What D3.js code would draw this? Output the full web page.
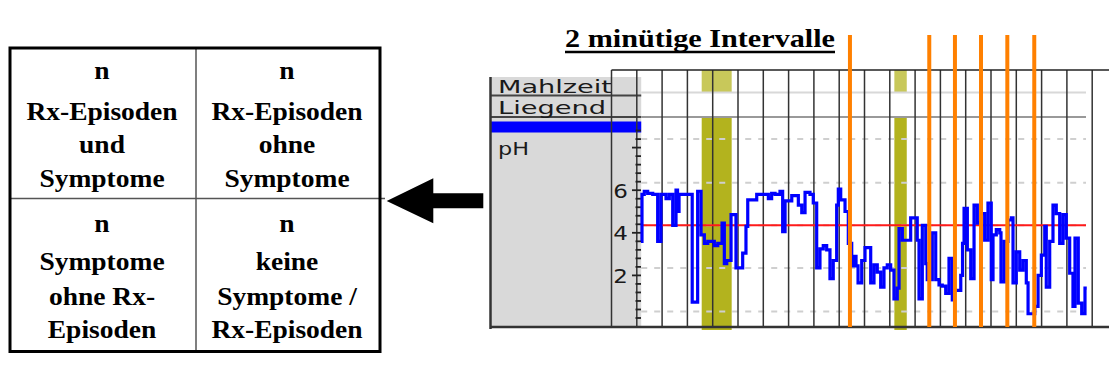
<!DOCTYPE html>
<html><head><meta charset="utf-8">
<script src="https://cdn.jsdelivr.net/npm/d3@7"></script>
<style>html,body{margin:0;padding:0;background:#fff}svg{display:block}</style>
</head><body>
<svg id="c" width="1109" height="378"></svg>
<script>
// ---- data ----
const phTime = [2.33,2.41,2.59,2.86,3.26,3.65,3.91,4.31,4.57,4.84,
5.10,5.22,5.34,6.38,6.81,7.08,7.34,7.61,8.13,8.40,
8.74,8.92,9.11,9.45,9.84,10.37,10.63,10.77,11.48,12.40,
12.66,12.93,13.32,13.53,13.72,14.25,14.77,15.04,15.30,15.69,
15.95,16.22,16.48,16.74,17.01,17.27,17.53,17.80,17.93,18.12,
18.46,18.72,18.99,19.17,19.33,19.49,19.78,20.04,20.49,20.75,
21.01,21.28,21.54,21.80,22.07,22.33,22.59,22.73,22.99,23.65,
24.17,24.31,24.57,24.84,24.96,25.36,25.63,25.89,26.15,26.42,
26.68,26.94,27.08,27.61,27.75,27.87,28.13,28.40,28.66,28.92,
29.19,29.50,29.76,30.02,30.16,30.42,30.69,30.79,31.05,31.34,
31.61,31.74,32.00,32.27,32.53,32.79,32.93,33.46,33.72,33.98,
34.25,34.37,34.64,34.90,35.16,35.43,35.69,35.95,36.22,36.48,
36.64,36.90,37.17,37.43,37.57];
const phValue = [3.6,5.8,5.95,5.85,5.8,3.6,5.8,5.6,5.8,4.35,
6.0,5.0,5.8,0.75,5.95,3.9,3.5,3.6,3.4,3.5,
4.45,2.55,2.7,4.85,2.35,3.05,4.3,5.55,5.8,5.6,
5.85,5.8,5.95,4.05,5.5,5.75,5.3,4.95,5.9,5.8,
5.4,2.35,3.25,3.4,3.2,1.85,2.7,5.3,6.05,5.55,
5.0,3.5,2.45,2.9,2.45,1.65,2.7,3.3,1.65,2.5,
2.15,1.45,2.35,2.5,2.25,0.9,1.4,4.2,3.65,4.7,
3.65,0.9,4.35,2.55,1.8,4.0,1.8,1.55,1.5,1.15,
2.8,0.85,1.3,2.0,3.5,5.15,3.2,1.85,5.3,4.45,
4.9,3.65,5.4,1.8,3.9,4.15,4.0,1.7,3.6,4.6,
4.7,1.65,3.1,2.25,2.7,1.65,0.2,0.55,2.0,2.95,
4.3,1.45,3.6,5.3,4.9,3.5,4.85,3.75,2.1,0.55,
3.75,0.7,0.2,1.4,1.4];
const mealStart = [7.13, 22.36];
const mealEnd = [9.5, 23.34];
const symptomTimes = [18.85, 25.12, 27.15, 29.21, 31.29, 33.42];
const threshold = 4.35;
const gridPh = [0.3, 2.35, 4.35, 6.35, 8.4];
const yTickLabels = [2, 4, 6];
const intervalMinutes = 2;
const rowLabels = ["Mahlzeit", "Liegend"];
const channelLabel = "pH";
const title = "2 minütige Intervalle";
const cellTopLeft = ["n", "Rx-Episoden", "und", "Symptome"];
const cellTopRight = ["n", "Rx-Episoden", "ohne", "Symptome"];
const cellBottomLeft = ["n", "Symptome", "ohne Rx-", "Episoden"];
const cellBottomRight = ["n", "keine", "Symptome /", "Rx-Episoden"];

// ---- drawing ----
const svg = d3.select("#c");
const x = d3.scaleLinear().domain([0, 38]).range([611.5, 1092.2]);
const y = d3.scaleLinear().domain([0, 9]).range([318, 126.3]);

svg.append("rect").attr("width",1109).attr("height",378).attr("fill","#fff");

// ---------- table ----------
const T = {l:10, t:48, r:380, b:351.5, mx:196, my:198.5};
svg.append("line").attr("x1",T.l).attr("x2",385).attr("y1",T.my).attr("y2",T.my).attr("stroke","#555").attr("stroke-width",1.5);
svg.append("line").attr("x1",T.mx).attr("x2",T.mx).attr("y1",T.t).attr("y2",T.b).attr("stroke","#555").attr("stroke-width",1.5);
svg.append("rect").attr("x",T.l).attr("y",T.t).attr("width",T.r-T.l).attr("height",T.b-T.t)
  .attr("fill","none").attr("stroke","#000").attr("stroke-width",3);
function cell(lines, cx, ys){
  lines.forEach((s,i)=>{
    svg.append("text").attr("transform",`translate(${cx},${ys[i]}) scale(1.1,1)`)
      .attr("text-anchor","middle").attr("font-family","Liberation Serif, Times New Roman, serif")
      .attr("font-weight","bold").attr("font-size",25).attr("fill","#000").text(s);
  });
}
const topYs=[79,120,153.3,186.7], botYs=[231.5,270,304.5,338];
cell(cellTopLeft, 102, topYs);
cell(cellTopRight, 287, topYs);
cell(cellBottomLeft, 102, botYs);
cell(cellBottomRight, 287, botYs);

// arrow
svg.append("path").attr("d","M386.7,201 L433.3,178.3 L433.3,193.3 L483.3,193.3 L483.3,208.3 L433.3,208.3 L433.3,223.3 Z").attr("fill","#000");

// ---------- title ----------
svg.append("text").attr("x",565).attr("y",47).attr("font-family","Liberation Serif, Times New Roman, serif")
  .attr("font-weight","bold").attr("font-size",26).attr("textLength",270).attr("lengthAdjust","spacingAndGlyphs").text(title);
svg.append("line").attr("x1",565).attr("x2",835).attr("y1",52).attr("y2",52).attr("stroke","#000").attr("stroke-width",2.5);

// ---------- label panel ----------
svg.append("rect").attr("x",491).attr("y",77).attr("width",x(2.35)-491).attr("height",327-77).attr("fill","#d9d9d9");
svg.append("rect").attr("x",491).attr("y",121.5).attr("width",x(2.35)-491).attr("height",11).attr("fill","#0000ff");
[95.5,117].forEach(yy=>svg.append("line").attr("x1",490).attr("x2",x(2.35)).attr("y1",yy).attr("y2",yy).attr("stroke","#444").attr("stroke-width",2));
svg.append("line").attr("x1",490.5).attr("x2",490.5).attr("y1",77).attr("y2",329).attr("stroke","#333").attr("stroke-width",2.5);
const lab = [{s:rowLabels[0],y:93,w:114},{s:rowLabels[1],y:114,w:108}];
lab.forEach(d=>svg.append("text").attr("x",498).attr("y",d.y).attr("font-family","DejaVu Sans, Verdana, sans-serif")
  .attr("font-size",18).attr("fill","#1a1a1a").attr("textLength",d.w).attr("lengthAdjust","spacingAndGlyphs").text(d.s));
svg.append("text").attr("x",498).attr("y",155).attr("font-family","DejaVu Sans, Verdana, sans-serif")
  .attr("font-size",18).attr("fill","#1a1a1a").attr("textLength",31).attr("lengthAdjust","spacingAndGlyphs").text(channelLabel);

// ---------- plot area ----------
const pl = x(2.35), pr = 1086;
mealStart.forEach((s,i)=>{
  svg.append("rect").attr("x",x(s)).attr("width",x(mealEnd[i])-x(s)).attr("y",70).attr("height",22).attr("fill","#c8c85a");
  svg.append("rect").attr("x",x(s)).attr("width",x(mealEnd[i])-x(s)).attr("y",117).attr("height",330-117).attr("fill","#b3b31e");
});
svg.append("line").attr("x1",pl).attr("x2",pr).attr("y1",92.5).attr("y2",92.5).attr("stroke","#d8d8d8").attr("stroke-width",2);
svg.append("line").attr("x1",pl).attr("x2",pr).attr("y1",117).attr("y2",117).attr("stroke","#999").attr("stroke-width",2);
gridPh.forEach(v=>svg.append("line").attr("x1",pl).attr("x2",pr).attr("y1",y(v)).attr("y2",y(v))
  .attr("stroke","#cfcfcf").attr("stroke-width",2).attr("stroke-dasharray","6,7"));
d3.range(0, 38.01, intervalMinutes).forEach(t=>svg.append("line").attr("x1",x(t)).attr("x2",x(t)).attr("y1",70).attr("y2",327)
  .attr("stroke","#333").attr("stroke-width",1.5));
svg.append("line").attr("x1",x(0)).attr("x2",1109).attr("y1",70).attr("y2",70).attr("stroke","#222").attr("stroke-width",1.5);
svg.append("line").attr("x1",490).attr("x2",1109).attr("y1",327).attr("y2",327).attr("stroke","#333").attr("stroke-width",2.5);

const ticks = d3.range(0, 8.81, 0.4);
ticks.forEach(v=>{
  const major = Math.abs(v/2 - Math.round(v/2))<1e-6 && v>0;
  svg.append("line").attr("x1",major?632:635.5).attr("x2",641).attr("y1",y(v)).attr("y2",y(v)).attr("stroke","#222").attr("stroke-width",1.8);
});
yTickLabels.forEach(v=>svg.append("text").attr("transform",`translate(628,${y(v)+7.5}) scale(1.15,1)`).attr("text-anchor","end")
  .attr("font-family","DejaVu Sans, Verdana, sans-serif").attr("font-size",20).attr("fill","#1a1a1a").text(v));

svg.append("line").attr("x1",pl).attr("x2",pr).attr("y1",y(threshold)).attr("y2",y(threshold)).attr("stroke","#ff1a1a").attr("stroke-width",2);

const pts = phTime.map((t,i)=>({t, v:phValue[i]}));
svg.append("path").datum(pts).attr("fill","none").attr("stroke","#0000ff").attr("stroke-width",3.2)
  .attr("d", d3.line().x(d=>x(d.t)).y(d=>y(d.v)).curve(d3.curveStepAfter));

symptomTimes.forEach(t=>svg.append("line").attr("x1",x(t)).attr("x2",x(t)).attr("y1",35).attr("y2",327)
  .attr("stroke","#ff8000").attr("stroke-width",4));
</script>
</body></html>
